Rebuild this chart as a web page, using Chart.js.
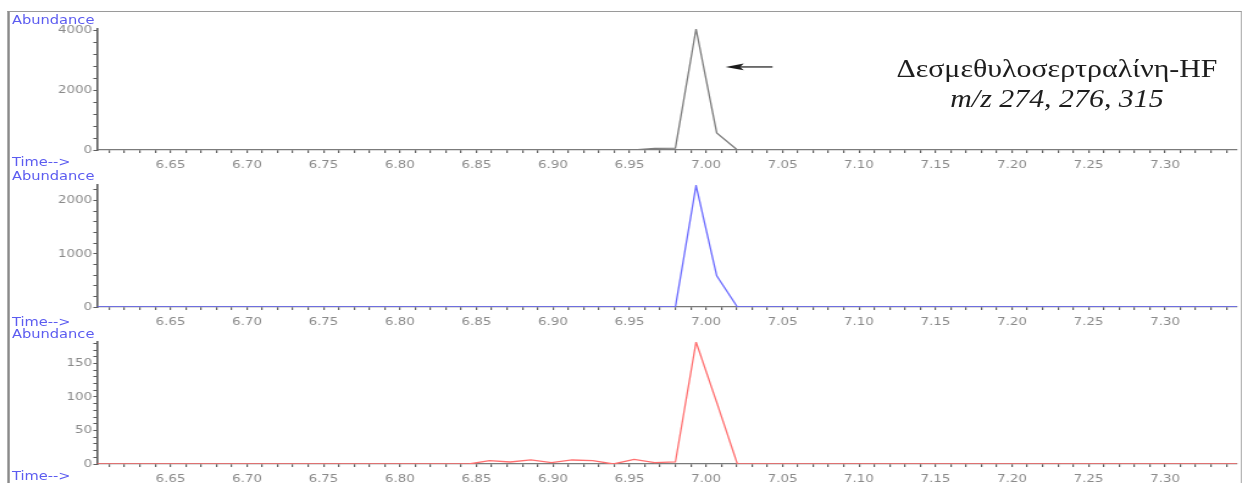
<!DOCTYPE html>
<html>
<head>
<meta charset="utf-8">
<script src="https://cdn.jsdelivr.net/npm/chart.js@4"></script>
<style>
  html, body { margin: 0; padding: 0; background: #fff; overflow: hidden; }
  body { width: 1243px; height: 483px; position: relative; }
  /* the whole instrument printout is drawn 1019px wide and stretched horizontally */
  #stage { position: absolute; left: 0; top: 0; width: 1019px; height: 483px;
           transform: scaleX(1.22); transform-origin: 0 0; }
  .frame { position: absolute; left: 6.4px; top: 11px; width: 1008.8px; height: 480px;
           border-top: 1px solid #9a9a9a; border-left: 2px solid #8a8a8a; border-right: 1px solid #b4b4b4; }
  canvas { position: absolute; left: 0; }
  .lbl { position: absolute; left: 9.8px; font-family: 'DejaVu Sans'; font-size: 12px; line-height: 1;
         color: #5c5cf0; white-space: nowrap; }
  .title { position: absolute; left: 666.4px; width: 400px; text-align: center; font-family: 'Liberation Serif';
           font-size: 24.5px; line-height: 1; color: #1e1e1e; white-space: nowrap; }
</style>
</head>
<body>
<div id="stage">
  <div class="frame"></div>
  <canvas id="c1" width="1019" height="157" style="top:17px"></canvas>
  <canvas id="c2" width="1019" height="158" style="top:173px"></canvas>
  <canvas id="c3" width="1019" height="158" style="top:330px"></canvas>

  <div class="lbl" style="top:14.3px">Abundance</div>
  <div class="lbl" style="top:156.3px">Time--&gt;</div>
  <div class="lbl" style="top:170.3px">Abundance</div>
  <div class="lbl" style="top:316.3px">Time--&gt;</div>
  <div class="lbl" style="top:327.8px">Abundance</div>
  <div class="lbl" style="top:469.8px">Time--&gt;</div>

  <div class="title" style="top:56.5px">Δεσμεθυλοσερτραλίνη-HF</div>
  <div class="title" style="top:86.5px"><i>m/z 274, 276, 315</i></div>
</div>

<script>
// Retention time of each scan (min)
const times = [6.602, 6.818, 6.8315, 6.845, 6.8585, 6.872, 6.8855, 6.899, 6.9125, 6.926,
               6.9395, 6.953, 6.9665, 6.980, 6.9935, 7.007, 7.0205, 7.034, 7.347];

// Ion abundances per scan
const ion274 = [0, 0, 0, 0, 0, 0, 0, 0, 0, 0, 0, 0, 55, 60, 4050, 570, 0, 0, 0];
const ion276 = [0, 0, 0, 0, 0, 0, 0, 0, 0, 0, 0, 0, 0, 0, 2280, 585, 0, 0, 0];
const ion315 = [0, 0, 0, 0, 5, 3, 6, 2, 6, 5, 0, 7, 2, 3, 182, 92, 0, 0, 0];

// Time axis range and ticks
const timeMin = 6.602;
const timeMax = 7.347;
const timeMinorStep = 0.01;
const timeLabelEvery = 5; // label every 5th minor tick (0.05 min)

// Abundance axes: top of scale, minor tick step, labelled step
const yMaxes = [4050, 2290, 182];
const ySteps = [400, 200, 10];
const yLabelSteps = [2000, 1000, 50];

// Arrow pointing at the peak (time, abundance)
const arrowTip = [7.0127, 2780];
const arrowTailTime = 7.0435;

const tickFont = { family: 'DejaVu Sans', size: 11 };
const tickColor = '#8a8a8a';

const peakArrow = {
  id: 'peakArrow',
  afterDatasetsDraw(chart) {
    const xs = chart.scales.x, ys = chart.scales.y;
    const tx = xs.getPixelForValue(arrowTip[0]);
    const ty = ys.getPixelForValue(arrowTip[1]);
    const ex = xs.getPixelForValue(arrowTailTime);
    const ctx = chart.ctx;
    ctx.save();
    ctx.strokeStyle = '#2a2a2a';
    ctx.fillStyle = '#1a1a1a';
    ctx.lineWidth = 1.3;
    ctx.beginPath();
    ctx.moveTo(tx + 8, ty);
    ctx.lineTo(ex, ty);
    ctx.stroke();
    ctx.beginPath();
    ctx.moveTo(tx, ty);
    ctx.lineTo(tx + 15, ty - 3.4);
    ctx.lineTo(tx + 12, ty);
    ctx.lineTo(tx + 15, ty + 3.4);
    ctx.closePath();
    ctx.fill();
    ctx.restore();
  }
};

function makeChart(id, values, color, idx, plugins) {
  const yMajor = yLabelSteps[idx];
  const yStep = ySteps[idx];
  const yMax = yMaxes[idx];
  return new Chart(document.getElementById(id), {
    type: 'line',
    data: {
      datasets: [{
        data: times.map((t, i) => ({ x: t, y: values[i] })),
        borderColor: color,
        borderWidth: 1.3,
        pointRadius: 0,
        tension: 0,
        fill: false
      }]
    },
    plugins: plugins || [],
    options: {
      responsive: false,
      animation: false,
      devicePixelRatio: 1,
      layout: { padding: { top: 12, right: 5.1, left: 0, bottom: 0 } },
      plugins: { legend: { display: false }, tooltip: { enabled: false } },
      scales: {
        x: {
          type: 'linear',
          min: timeMin,
          max: timeMax,
          afterFit(s) { s.height = 24; },
          border: { display: true, color: '#7a7a7a', width: 1.2 },
          grid: { drawOnChartArea: false, drawTicks: true, tickLength: 3, color: '#5e5e5e', lineWidth: 1.2 },
          ticks: {
            stepSize: timeMinorStep,
            autoSkip: false,
            maxRotation: 0,
            minRotation: 0,
            includeBounds: false,
            padding: 6,
            color: tickColor,
            font: tickFont,
            callback(v) {
              const k = Math.round(v / timeMinorStep);
              return k % timeLabelEvery === 0 ? v.toFixed(2) : '';
            }
          }
        },
        y: {
          min: 0,
          max: yMax,
          afterFit(s) { s.width = 79.5; },
          // keep the minor ticks on whole multiples of the step, below the scale top
          afterBuildTicks(s) {
            const t = [];
            for (let v = 0; v <= yMax; v += yStep) t.push({ value: v });
            s.ticks = t;
          },
          border: { display: true, color: '#5a5a5a', width: 1.6 },
          grid: { drawOnChartArea: false, drawTicks: true, tickLength: 3, color: '#5e5e5e', lineWidth: 1 },
          ticks: {
            stepSize: yStep,
            autoSkip: false,
            includeBounds: false,
            padding: 1,
            color: tickColor,
            font: tickFont,
            callback(v) {
              return Math.round(v) % yMajor === 0 ? String(Math.round(v)) : '';
            }
          }
        }
      }
    }
  });
}

makeChart('c1', ion274, '#7c7c7c', 0, [peakArrow]);
makeChart('c2', ion276, '#6b6bff', 1);
makeChart('c3', ion315, '#ff6f6f', 2);
</script>
</body>
</html>
